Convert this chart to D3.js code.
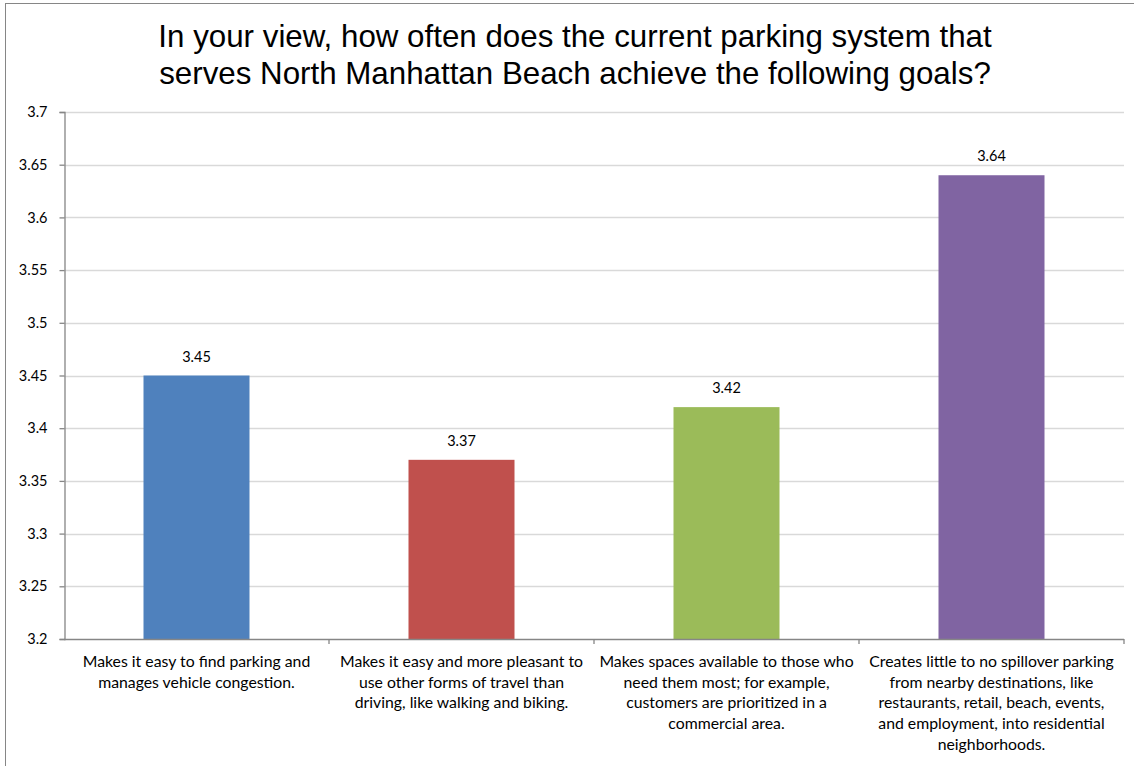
<!DOCTYPE html>
<html>
<head>
<meta charset="utf-8">
<script src="https://cdn.jsdelivr.net/npm/d3@7"></script>
<style>
  html, body { margin: 0; padding: 0; background: #fff; }
  svg { display: block; }
</style>
</head>
<body>
<svg id="chart" width="1134" height="766"></svg>
<script>
// Survey goals (x axis), wrapped the way they appear under each bar
const categories = [
  ["Makes it easy to find parking and", "manages vehicle congestion."],
  ["Makes it easy and more pleasant to", "use other forms of travel than", "driving, like walking and biking."],
  ["Makes spaces available to those who", "need them most; for example,", "customers are prioritized in a", "commercial area."],
  ["Creates little to no spillover parking", "from nearby destinations, like", "restaurants, retail, beach, events,", "and employment, into residential", "neighborhoods."]
];
// Average rating per goal
const values = [3.45, 3.37, 3.42, 3.64];
const barColors = ["#4F81BD", "#C0504D", "#9BBB59", "#8064A2"];
const yTicks = [3.2, 3.25, 3.3, 3.35, 3.4, 3.45, 3.5, 3.55, 3.6, 3.65, 3.7];
const titleLines = [
  "In your view, how often does the current parking system that",
  "serves North Manhattan Beach achieve the following goals?"
];

const svg = d3.select("#chart");
const W = 1134, H = 766;
const plot = { left: 64, right: 1124, top: 112, bottom: 639 };
const labelFont = "Lato, 'Open Sans', 'DejaVu Sans', sans-serif";

// Outer chart frame (only the top and left edges fall inside the window)
svg.append("rect")
  .attr("x", 5.5).attr("y", 3.5)
  .attr("width", W + 10).attr("height", H + 10)
  .attr("fill", "#fff").attr("stroke", "#868686").attr("stroke-width", 1);

// Title
svg.append("g").selectAll("text").data(titleLines).join("text")
  .attr("x", 575).attr("y", (d, i) => 47 + i * 37)
  .attr("text-anchor", "middle")
  .attr("font-family", "'Liberation Sans', Arial, sans-serif")
  .attr("font-size", 31.3)
  .attr("fill", "#000")
  .text(d => d);

const x = d3.scaleBand()
  .domain(d3.range(categories.length))
  .range([plot.left, plot.right])
  .paddingInner(0.6).paddingOuter(0.3);

const y = d3.scaleLinear()
  .domain([3.2, 3.7])
  .range([plot.bottom, plot.top]);

// Horizontal gridlines
svg.append("g").selectAll("line").data(yTicks.slice(1)).join("line")
  .attr("x1", plot.left).attr("x2", plot.right)
  .attr("y1", d => Math.round(y(d)) + 0.5).attr("y2", d => Math.round(y(d)) + 0.5)
  .attr("stroke", "#d9d9d9").attr("stroke-width", 1.3);

// Bars
svg.append("g").selectAll("rect").data(values).join("rect")
  .attr("x", (d, i) => x(i))
  .attr("y", d => y(d))
  .attr("width", x.bandwidth())
  .attr("height", d => y(3.2) - y(d))
  .attr("fill", (d, i) => barColors[i]);

// Value labels above bars
svg.append("g").selectAll("text").data(values).join("text")
  .attr("x", (d, i) => x(i) + x.bandwidth() / 2)
  .attr("y", d => y(d) - 14)
  .attr("text-anchor", "middle")
  .attr("font-family", labelFont)
  .attr("font-size", 14.5)
  .attr("fill", "#000")
  .text(d => d.toFixed(2));

// Y axis
const yAxis = svg.append("g")
  .attr("transform", `translate(${plot.left + 0.5},0)`)
  .call(d3.axisLeft(y).tickValues(yTicks).tickSize(5).tickPadding(12)
    .tickFormat(d => String(+d.toFixed(2))));
yAxis.select(".domain").attr("stroke", "#868686").attr("stroke-width", 1.3);
yAxis.selectAll(".tick line").attr("stroke", "#868686").attr("stroke-width", 1.3);
yAxis.selectAll(".tick text")
  .attr("font-family", labelFont).attr("font-size", 14.5).attr("fill", "#000");

// X axis baseline with category separators
const xLine = svg.append("g");
xLine.append("line")
  .attr("x1", plot.left).attr("x2", plot.right)
  .attr("y1", plot.bottom + 0.5).attr("y2", plot.bottom + 0.5)
  .attr("stroke", "#868686").attr("stroke-width", 1.3);
xLine.selectAll("line.sep").data(d3.range(1, categories.length + 1)).join("line")
  .attr("class", "sep")
  .attr("x1", i => plot.left + (plot.right - plot.left) * i / categories.length)
  .attr("x2", i => plot.left + (plot.right - plot.left) * i / categories.length)
  .attr("y1", plot.bottom).attr("y2", plot.bottom + 5)
  .attr("stroke", "#868686").attr("stroke-width", 1.3);

// Category labels
const catG = svg.append("g");
categories.forEach((lines, i) => {
  catG.append("text")
    .attr("text-anchor", "middle")
    .attr("font-family", labelFont)
    .attr("font-size", 15.8)
    .attr("fill", "#000")
    .selectAll("tspan").data(lines).join("tspan")
    .attr("x", x(i) + x.bandwidth() / 2)
    .attr("y", (d, j) => 667 + j * 20.7)
    .text(d => d);
});
</script>
</body>
</html>
